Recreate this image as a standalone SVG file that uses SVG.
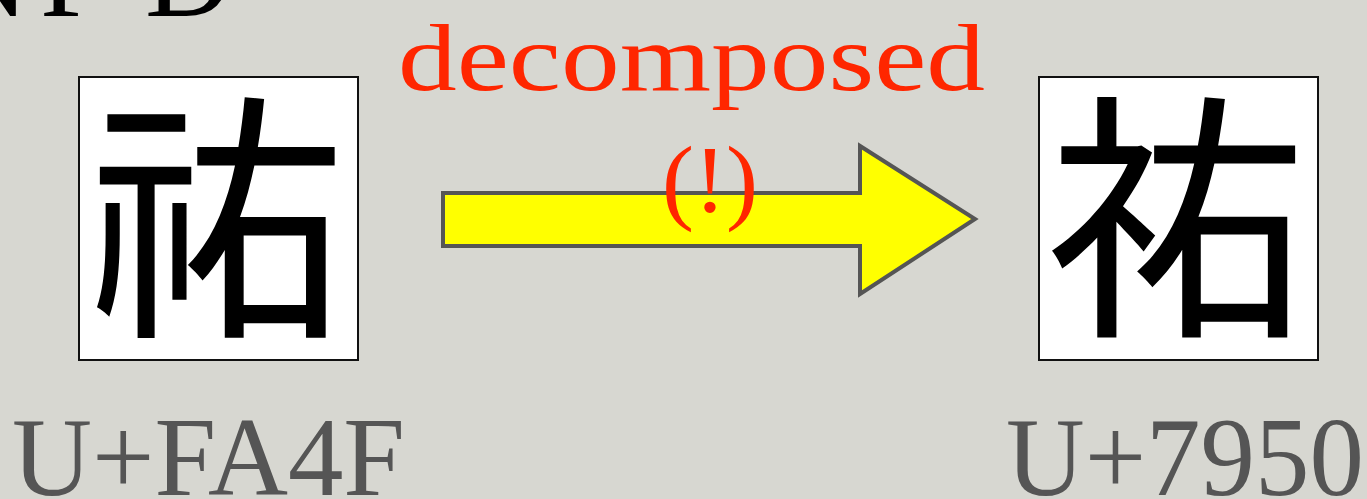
<svg xmlns="http://www.w3.org/2000/svg" width="1367" height="499" viewBox="0 0 1367 499">
<style>
.box{fill:#fff;stroke:#111;stroke-width:2}
.cjk{font-family:"Noto Sans CJK JP","Noto Sans CJK SC",sans-serif;font-size:262px;fill:#000;text-anchor:middle}
.code{font-family:"Liberation Serif",serif;font-size:112px;fill:#555}
.red{font-family:"Liberation Serif",serif;fill:#ff2600;font-size:96px}
</style>
<rect width="1367" height="499" fill="#d7d7d1"/>
<text x="-58 40 145" y="16" font-family="Liberation Serif,serif" font-size="120" fill="#000">NFD</text>
<g id="connectors">
<polygon points="443,193 860,193 860,146 975,219 860,294 860,246 443,246" fill="#ffff00" stroke="#555" stroke-width="4" stroke-linejoin="miter"/>
</g>
<g id="label">
<text class="red" x="398" y="90" textLength="587" lengthAdjust="spacingAndGlyphs">decomposed</text>
<text class="red" x="710" y="212" text-anchor="middle">(!)</text>
</g>
<g id="node-left">
<rect class="box" x="79" y="77" width="279" height="283"/>
<text class="cjk" x="218" y="317">&#xFA4F;</text>
<text class="code" x="12" y="495" textLength="393" lengthAdjust="spacingAndGlyphs">U+FA4F</text>
</g>
<g id="node-right">
<rect class="box" x="1039" y="77" width="279" height="283"/>
<text class="cjk" x="1178" y="317">&#x7950;</text>
<text class="code" x="1006" y="495" textLength="358" lengthAdjust="spacingAndGlyphs">U+7950</text>
</g>
</svg>
